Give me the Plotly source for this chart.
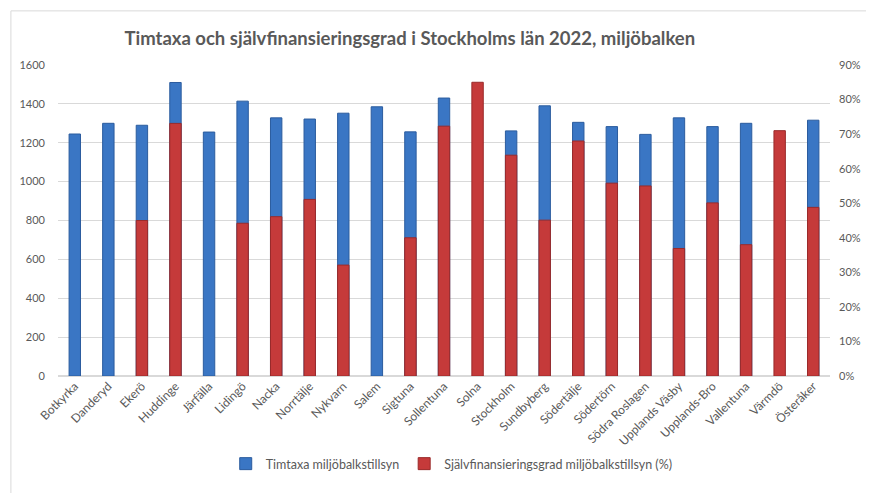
import plotly.graph_objects as go

categories = ["Botkyrka", "Danderyd", "Ekerö", "Huddinge", "Järfälla", "Lidingö", "Nacka",
              "Norrtälje", "Nykvarn", "Salem", "Sigtuna", "Sollentuna", "Solna", "Stockholm",
              "Sundbyberg", "Södertälje", "Södertörn", "Södra Roslagen", "Upplands Väsby",
              "Upplands-Bro", "Vallentuna", "Värmdö", "Österåker"]

timtaxa = [1245, 1300, 1290, 1510, 1255, 1414, 1328, 1322, 1352, 1385, 1256, 1430, None,
           1261, 1390, 1305, 1283, 1243, 1328, 1283, 1300, None, 1316]

sjalvfin = [None, None, 0.450, 0.731, None, 0.442, 0.461, 0.511, 0.321, None, 0.400, 0.723,
            0.850, 0.639, 0.451, 0.680, 0.558, 0.550, 0.369, 0.501, 0.380, 0.710, 0.488]

left_ticks = [0, 200, 400, 600, 800, 1000, 1200, 1400, 1600]
right_ticks = [0, 0.1, 0.2, 0.3, 0.4, 0.5, 0.6, 0.7, 0.8, 0.9]

font_family = "Lato, Open Sans, sans-serif"
gray = "#595959"

fig = go.Figure()
fig.add_trace(go.Bar(
    x=categories, y=timtaxa, name="Timtaxa miljöbalkstillsyn",
    marker=dict(color="#3a76c4", line=dict(color="#2b5c9e", width=1)),
    width=0.34, yaxis="y", offsetgroup="a",
))
fig.add_trace(go.Bar(
    x=categories, y=sjalvfin, name="Självfinansieringsgrad miljöbalkstillsyn (%)",
    marker=dict(color="#c53a3a", line=dict(color="#9a2a2a", width=1)),
    width=0.34, yaxis="y2", offsetgroup="a",
))

fig.update_layout(
    width=866, height=485,
    margin=dict(l=50, r=44, t=57, b=117),
    paper_bgcolor="white", plot_bgcolor="white",
    barmode="overlay",
    font=dict(family=font_family, size=11, color=gray),
    title=dict(text="<b>Timtaxa och självfinansieringsgrad i Stockholms län 2022, miljöbalken</b>",
               x=0.464, xanchor="center", y=0.938, yanchor="middle",
               font=dict(size=18.5, color=gray, family=font_family)),
    xaxis=dict(tickangle=-45, showgrid=False, showline=False, ticks="", automargin=False,
               tickfont=dict(size=12, color=gray)),
    yaxis=dict(range=[0, 1600], tickvals=left_ticks, showgrid=True, gridcolor="#d9d9d9",
               gridwidth=1, zeroline=True, zerolinecolor="#d9d9d9", showline=False,
               ticks="", tickfont=dict(size=11, color=gray), ticklabelstandoff=12,
               automargin=False),
    yaxis2=dict(range=[0, 0.9], tickvals=right_ticks, tickformat=".0%", overlaying="y",
                side="right", showgrid=False, zeroline=False, showline=False, ticks="",
                tickfont=dict(size=11, color=gray), ticklabelstandoff=8, automargin=False),
    legend=dict(orientation="h", x=0.51, xanchor="center", y=-0.283, yanchor="middle",
                font=dict(size=12.5, color=gray), traceorder="normal"),
    showlegend=True,
)

fig.add_shape(type="rect", xref="paper", yref="paper",
              x0=-0.061, x1=1.2, y0=-0.6, y1=1.174,
              line=dict(color="#d9d9d9", width=1), fillcolor="rgba(0,0,0,0)", layer="below")

fig.write_html("out.html")
